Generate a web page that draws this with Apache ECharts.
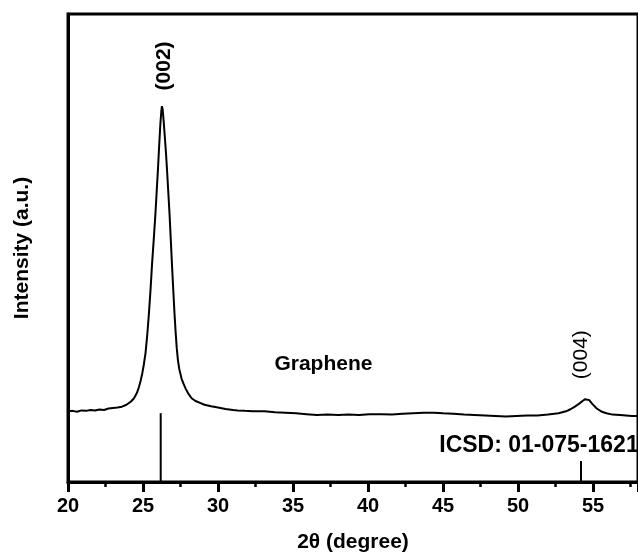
<!DOCTYPE html>
<html>
<head>
<meta charset="utf-8">
<script src="https://cdn.jsdelivr.net/npm/echarts@6/dist/echarts.min.js"></script>
<style>
html,body{margin:0;padding:0;background:#fff;}
#chart{width:638px;height:558px;}
</style>
</head>
<body>
<div id="chart"></div>
<script>
// XRD pattern of graphene (2θ in degrees, intensity in arbitrary units)
const twoTheta = [20.0,20.3,20.6,20.9,21.2,21.5,21.8,22.1,22.4,22.7,23.0,23.3,23.6,23.9,24.2,24.4,24.59,24.72,24.84,24.95,25.05,25.17,25.28,25.39,25.50,25.60,25.72,25.83,25.92,26.00,26.08,26.16,26.22,26.26,26.31,26.38,26.46,26.53,26.59,26.68,26.77,26.85,26.92,27.01,27.10,27.18,27.25,27.33,27.42,27.58,27.7,27.85,28.0,28.24,28.5,28.8,29.1,29.54,30.0,30.5,31.0,31.32,31.8,32.3,33.1,33.8,34.5,35.2,35.9,36.6,37.3,38.0,38.7,39.4,40.1,40.9,41.6,42.3,43.0,43.7,44.4,45.0,45.7,46.4,47.1,47.8,48.5,49.2,49.9,50.6,51.3,52.0,52.7,53.2,53.53,53.79,54.06,54.3,54.48,54.6,54.75,54.95,55.25,55.6,55.9,56.3,56.8,57.2,57.6,58.0];
const intensity = [15.1,15.2,15.0,15.3,15.2,15.4,15.3,15.5,15.4,15.7,15.8,15.9,16.1,16.5,17.2,17.9,19.0,20.2,21.6,23.2,25.0,27.6,31.3,35.8,41.0,46.4,52.0,57.4,62.5,67.0,72.0,76.6,79.2,80.3,79.6,77.0,73.5,70.4,67.3,62.3,57.2,52.0,47.2,41.5,36.0,31.8,28.6,26.0,24.1,22.0,21.0,19.9,19.0,17.9,17.3,16.9,16.5,16.2,15.9,15.6,15.4,15.3,15.2,15.1,15.1,14.9,14.8,14.7,14.5,14.3,14.4,14.3,14.4,14.3,14.5,14.5,14.4,14.6,14.7,14.8,14.8,14.7,14.6,14.4,14.3,14.2,14.1,14.0,14.1,14.2,14.2,14.4,14.7,15.1,15.6,16.1,16.7,17.3,17.7,17.9,17.5,16.7,15.7,15.0,14.7,14.4,14.3,14.2,14.1,14.1];
// ICSD 01-075-1621 reference lines
const stickPos = [26.18, 54.2];
const stickHeight = [14.7, 4.5];
// annotations (data coordinates)
const annoText = ['(002)', '(004)', 'Graphene', 'ICSD: 01-075-1621'];
const annoX = [26.44, 54.2, 33.76, 44.75];
const annoY = [88.9, 27.2, 25.1, 7.87];

const FONT = '"Liberation Sans", Arial, sans-serif';
const chart = echarts.init(document.getElementById('chart'), null, {renderer: 'canvas'});
const lineData = twoTheta.map((x, i) => [x, intensity[i]]);
const stickData = stickPos.map((x, i) => [x, stickHeight[i]]);

chart.setOption({
  animation: false,
  backgroundColor: '#ffffff',
  grid: {left: 68, top: 14, bottom: 74, right: -9, show: true, borderColor: '#000', borderWidth: 3, backgroundColor: 'transparent'},
  xAxis: {
    type: 'value', min: 20, max: 58, interval: 5,
    name: '2θ (degree)', nameLocation: 'middle', nameGap: 50,
    nameTextStyle: {fontFamily: FONT, fontWeight: 'bold', fontSize: 21, color: '#000'},
    axisLine: {show: true, lineStyle: {color: '#000', width: 3}},
    axisTick: {show: true, length: 10, lineStyle: {color: '#000', width: 3}},
    minorTick: {show: true, splitNumber: 2, length: 5, lineStyle: {color: '#000', width: 2.5}},
    axisLabel: {fontFamily: FONT, fontWeight: 'bold', fontSize: 20, color: '#000', margin: 14, showMaxLabel: false},
    splitLine: {show: false}
  },
  yAxis: {
    type: 'value', min: 0, max: 100,
    name: 'Intensity (a.u.)', nameLocation: 'middle', nameGap: 35,
    nameTextStyle: {fontFamily: FONT, fontWeight: 'bold', fontSize: 21, color: '#000'},
    axisLine: {show: true, lineStyle: {color: '#000', width: 3}},
    axisTick: {show: false}, axisLabel: {show: false}, splitLine: {show: false}
  },
  series: [
    {type: 'line', data: lineData, showSymbol: false, symbol: 'none',
     lineStyle: {color: '#000', width: 2}, z: 3},
    {type: 'bar', data: stickData, barWidth: 2, itemStyle: {color: '#000'}, z: 2}
  ]
});

const styles = [
  {rot: Math.PI/2, align: 'center', size: 21, weight: 'bold'},
  {rot: Math.PI/2, align: 'center', size: 21, weight: 'normal'},
  {rot: 0, align: 'left', size: 21, weight: 'bold'},
  {rot: 0, align: 'left', size: 23, weight: 'bold'}
];
const els = annoText.map((t, i) => {
  const p = chart.convertToPixel({gridIndex: 0}, [annoX[i], annoY[i]]);
  const s = styles[i];
  return {
    type: 'text', x: p[0], y: p[1], rotation: s.rot,
    style: {text: t, fill: '#000', font: s.weight + ' ' + s.size + 'px ' + FONT,
            textAlign: s.align, textVerticalAlign: 'middle'},
    z: 10
  };
});
chart.setOption({graphic: els});
</script>
</body>
</html>
